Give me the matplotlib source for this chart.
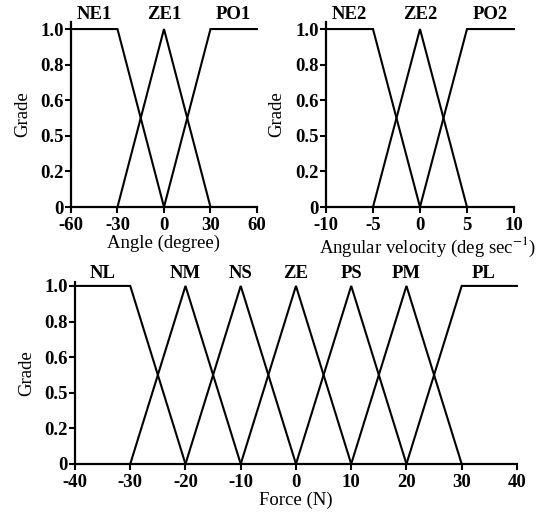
import numpy as np
import matplotlib
matplotlib.use("Agg")
import matplotlib.pyplot as plt

plt.rcParams['font.family'] = ['Liberation Serif', 'DejaVu Serif']
plt.rcParams['mathtext.fontset'] = 'stix'

# membership functions: breakpoints x and grades y for each fuzzy set
angle_names = ['NE1', 'ZE1', 'PO1']
angle_x = [[-60, -30, 0], [-30, 0, 30], [0, 30, 60]]
angle_y = [[1, 1, 0], [0, 1, 0], [0, 1, 1]]
angle_label_x = [-45, 0, 45]

vel_names = ['NE2', 'ZE2', 'PO2']
vel_x = [[-10, -5, 0], [-5, 0, 5], [0, 5, 10]]
vel_y = [[1, 1, 0], [0, 1, 0], [0, 1, 1]]
vel_label_x = [-7.5, 0, 7.5]

force_names = ['NL', 'NM', 'NS', 'ZE', 'PS', 'PM', 'PL']
force_x = [[-40, -30, -20], [-30, -20, -10], [-20, -10, 0], [-10, 0, 10],
           [0, 10, 20], [10, 20, 30], [20, 30, 40]]
force_y = [[1, 1, 0], [0, 1, 0], [0, 1, 0], [0, 1, 0], [0, 1, 0], [0, 1, 0], [0, 1, 1]]
force_label_x = [-35, -20, -10, 0, 10, 20, 34]

grade_ticks = [0, 0.2, 0.4, 0.6, 0.8, 1.0]
grade_ticklabels = ['0', '0.2', '0.5', '0.6', '0.8', '1.0']  # as printed in the original

angle_ticks = [-60, -30, 0, 30, 60]
vel_ticks = [-10, -5, 0, 5, 10]
force_ticks = [-40, -30, -20, -10, 0, 10, 20, 30, 40]

fs_tick = 13.5
fs_name = 13.5
fs_lab = 13.5


def panel(ax, xs, ys, names, name_x, xticks, xlabel, ytop, name_y, ylab_x, xlab_x):
    for x, y in zip(xs, ys):
        ax.plot(x, y, color='black', lw=1.5, solid_joinstyle='miter', clip_on=False)
    for n, nx in zip(names, name_x):
        ax.text(nx, name_y, n, ha='center', va='bottom', fontsize=fs_name, fontweight='bold')
    ax.set_xlim(xticks[0], xticks[-1])
    ax.set_ylim(0, ytop)
    ax.set_xticks(xticks)
    ax.set_xticklabels([str(t) for t in xticks], fontsize=fs_tick, fontweight='bold')
    ax.set_yticks(grade_ticks)
    ax.set_yticklabels(grade_ticklabels, fontsize=fs_tick, fontweight='bold')
    for s in ['top', 'right']:
        ax.spines[s].set_visible(False)
    for s in ['left', 'bottom']:
        ax.spines[s].set_linewidth(1.6)
    ax.tick_params(direction='out', length=4, width=1.5)
    ax.tick_params(axis='y', pad=1)
    ax.tick_params(axis='x', pad=3.5)
    ax.set_xlabel(xlabel, fontsize=fs_lab, labelpad=0)
    ax.xaxis.label.set_x(xlab_x)
    ax.set_ylabel('Grade', fontsize=fs_lab)
    # position is the right-hand edge of the rotated label
    ax.yaxis.set_label_coords(ylab_x, 0.5)


fig = plt.figure(figsize=(5.49, 5.16), dpi=100)
ax1 = fig.add_axes([0.1293, 0.5988, 0.3388, 0.3587])
ax2 = fig.add_axes([0.5938, 0.5988, 0.3424, 0.3587])
ax3 = fig.add_axes([0.1366, 0.1008, 0.8050, 0.3520])

panel(ax1, angle_x, angle_y, angle_names, angle_label_x, angle_ticks,
      'Angle (degree)', 1.04, 1.035, -0.215, 0.5)
panel(ax2, vel_x, vel_y, vel_names, vel_label_x, vel_ticks,
      r'Angular velocity (deg sec$^{-1}$)', 1.04, 1.035, -0.215, 0.54)
panel(ax3, force_x, force_y, force_names, force_label_x, force_ticks,
      'Force (N)', 1.02, 1.02, -0.09, 0.5)

fig.savefig('out.png', dpi=100)
